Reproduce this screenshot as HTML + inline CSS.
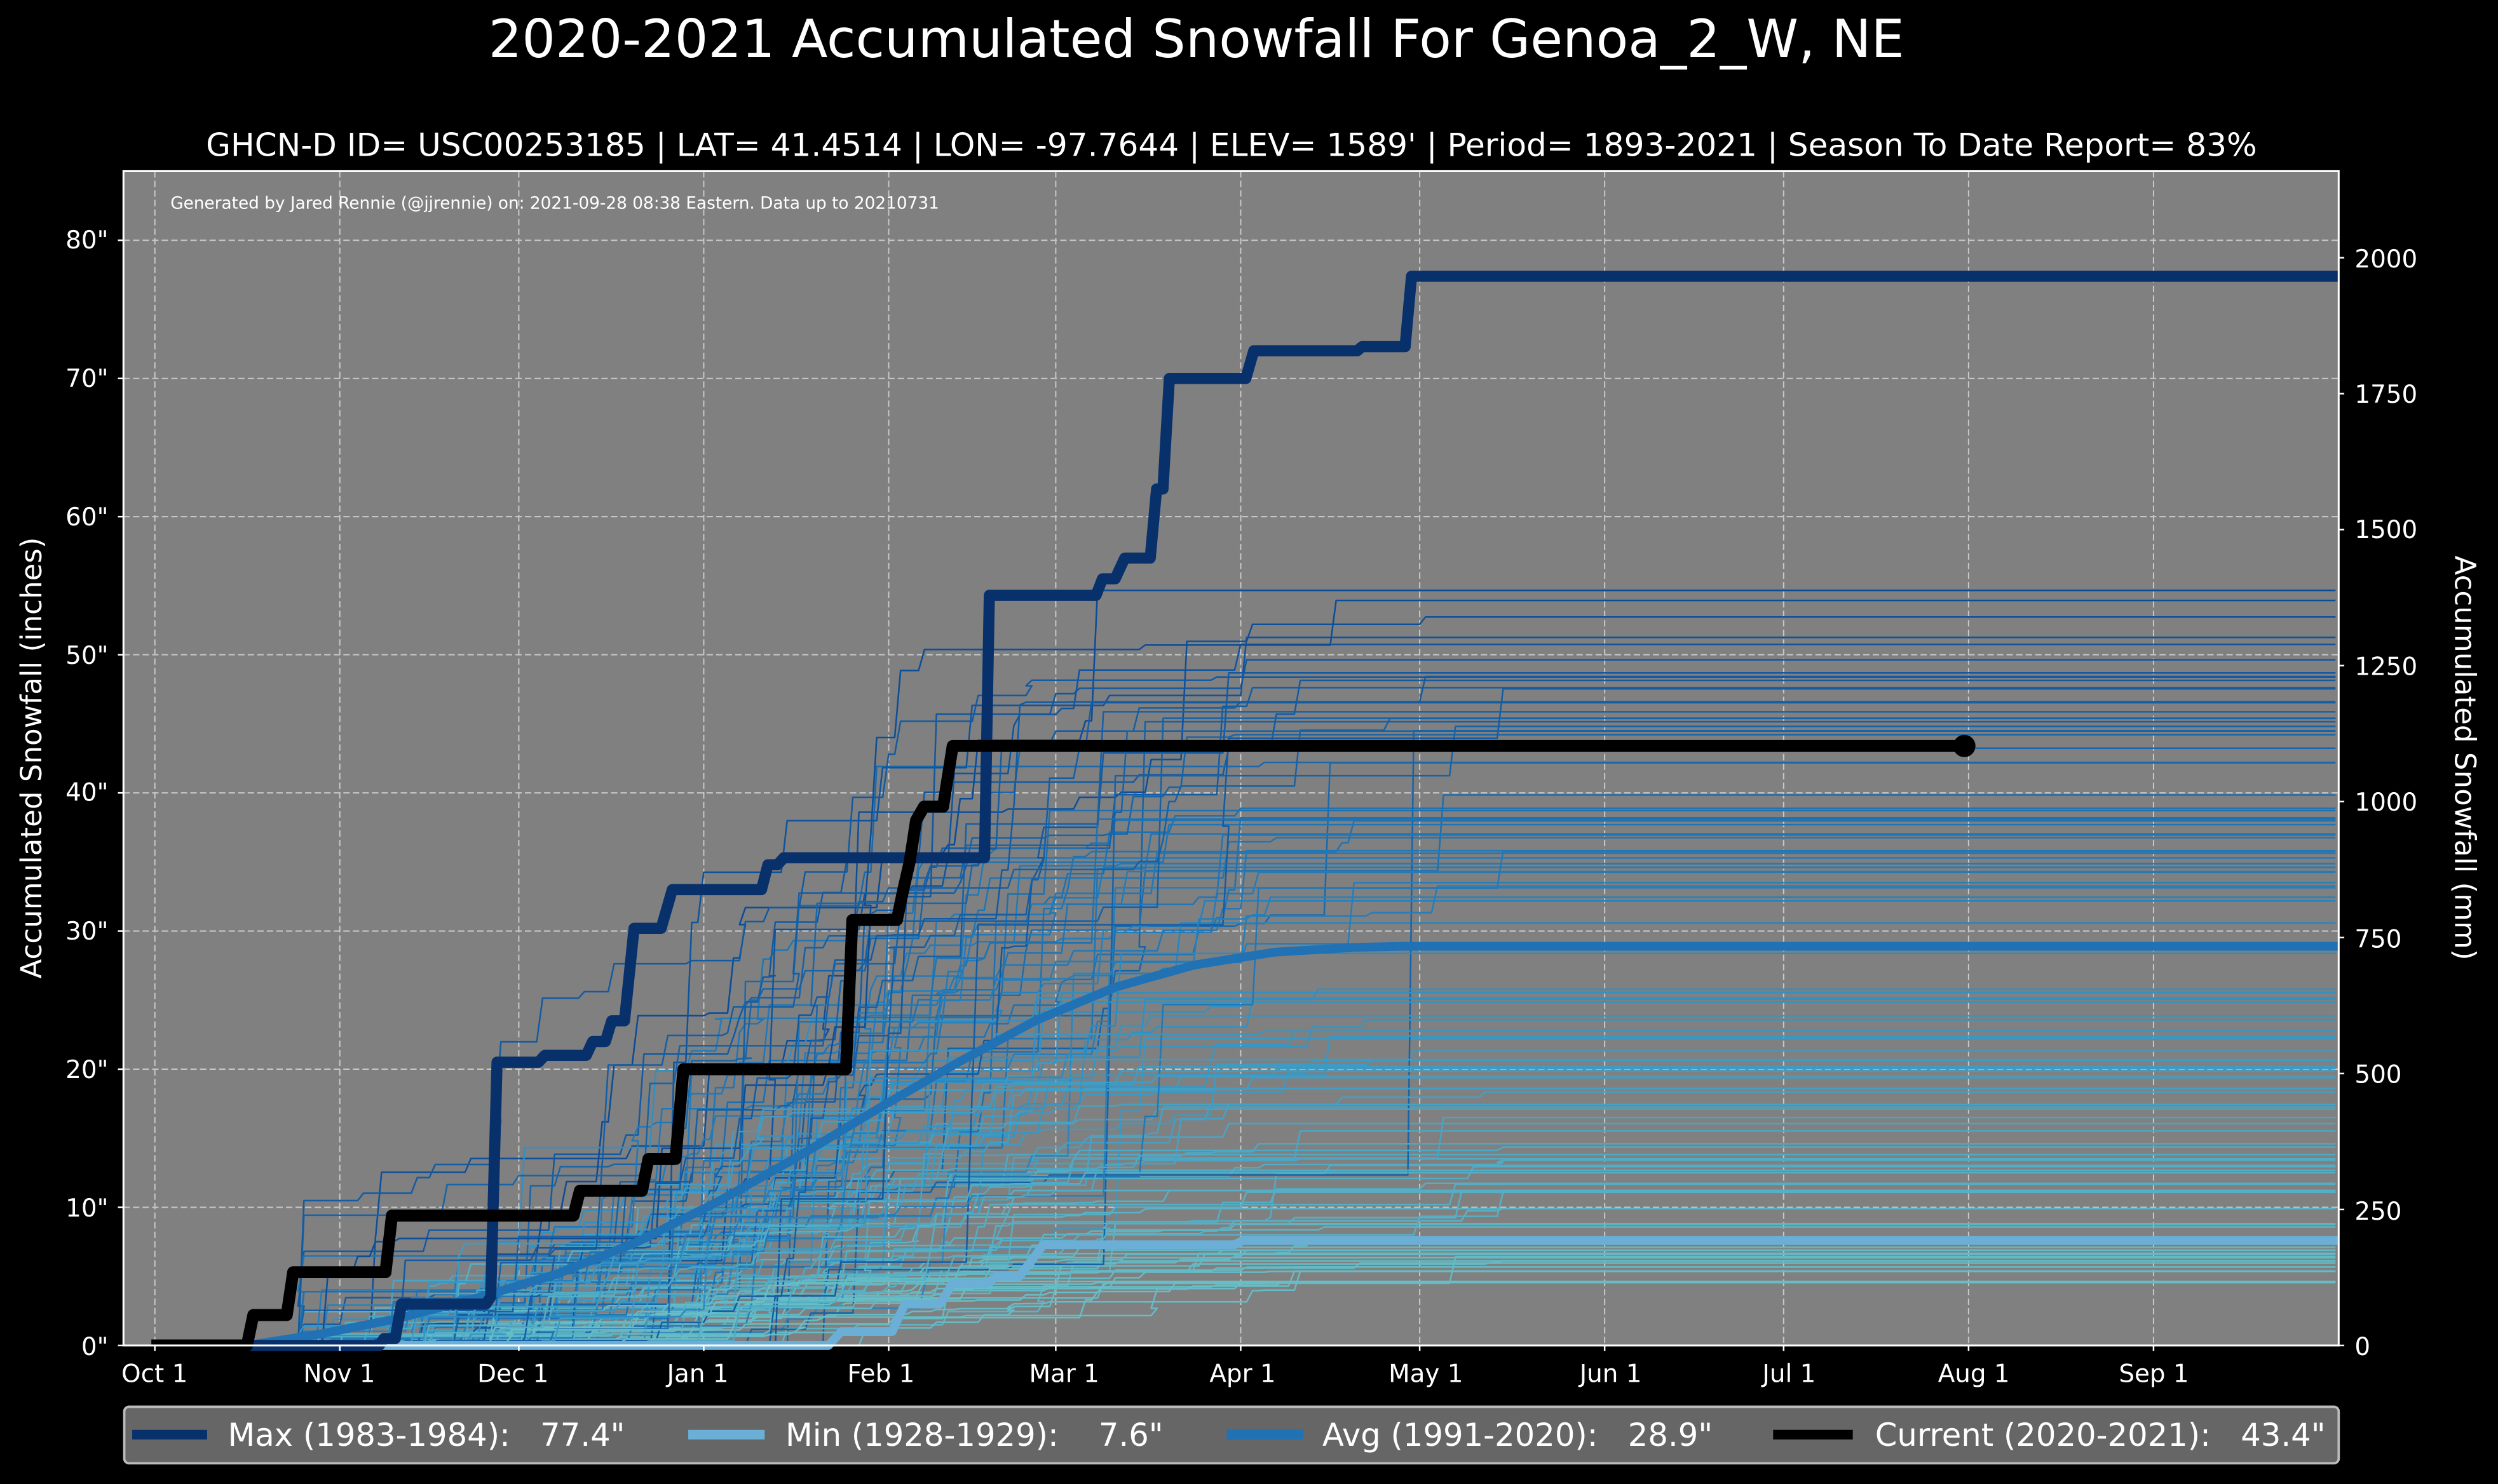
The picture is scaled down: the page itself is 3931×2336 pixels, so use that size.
<!DOCTYPE html>
<html><head><meta charset="utf-8"><style>
html,body{margin:0;padding:0;background:#000;}
svg{display:block;}
text{font-family:"DejaVu Sans","Liberation Sans",sans-serif;fill:#fff;}
.pre{white-space:pre;}
</style></head><body>
<svg id="s" width="3931" height="2336" viewBox="0 0 1568 932" preserveAspectRatio="none" xmlns="http://www.w3.org/2000/svg">
<rect x="0" y="0" width="1568" height="932" fill="#000"/>
<rect x="77.5" y="107.5" width="1390.5" height="737.5" fill="#808080"/>
<g id="grid" stroke="#c8c8c8" stroke-width="0.8" stroke-dasharray="4,2" fill="none"></g>
<g id="thin" fill="none" stroke-width="1" stroke-linejoin="round"></g>
<g id="thick" fill="none" stroke-linejoin="round"></g>
<rect x="77.5" y="107.5" width="1390.5" height="737.5" fill="none" stroke="#fff" stroke-width="1.2"/>
<g id="ticks" stroke="#fff" stroke-width="1"></g>
<text x="751" y="36" font-size="33" text-anchor="middle">2020-2021 Accumulated Snowfall For Genoa_2_W, NE</text>
<text x="773" y="98" font-size="20" text-anchor="middle">GHCN-D ID= USC00253185 | LAT= 41.4514 | LON= -97.7644 | ELEV= 1589' | Period= 1893-2021 | Season To Date Report= 83%</text>
<text x="107" y="131" font-size="10.5">Generated by Jared Rennie (@jjrennie) on: 2021-09-28 08:38 Eastern. Data up to 20210731</text>
<text transform="translate(26,476) rotate(-90)" font-size="18" text-anchor="middle">Accumulated Snowfall (inches)</text>
<text transform="translate(1541,476) rotate(90)" font-size="18" text-anchor="middle">Accumulated Snowfall (mm)</text>
<g font-size="15.5" text-anchor="end">
<text x="68" y="851">0"</text><text x="68" y="764">10"</text><text x="68" y="677">20"</text><text x="68" y="590">30"</text><text x="68" y="503">40"</text><text x="68" y="417">50"</text><text x="68" y="330">60"</text><text x="68" y="243">70"</text><text x="68" y="156">80"</text>
</g>
<g font-size="15.5" text-anchor="start">
<text x="1478" y="851">0</text><text x="1478" y="766">250</text><text x="1478" y="680">500</text><text x="1478" y="595">750</text><text x="1478" y="509">1000</text><text x="1478" y="424">1250</text><text x="1478" y="338">1500</text><text x="1478" y="253">1750</text><text x="1478" y="168">2000</text>
</g>
<g font-size="15.5" text-anchor="middle">
<text x="97" y="868">Oct 1</text><text x="213" y="868">Nov 1</text><text x="322" y="868">Dec 1</text><text x="438" y="868">Jan 1</text><text x="553" y="868">Feb 1</text><text x="668" y="868">Mar 1</text><text x="780" y="868">Apr 1</text><text x="895" y="868">May 1</text><text x="1011" y="868">Jun 1</text><text x="1123" y="868">Jul 1</text><text x="1239" y="868">Aug 1</text><text x="1352" y="868">Sep 1</text>
</g>
<rect x="78" y="883.5" width="1390" height="35.5" rx="3" fill="#666" stroke="#bbb" stroke-width="1.5"/>
<line x1="83" y1="901" x2="130" y2="901" stroke="#08306b" stroke-width="6"/>
<line x1="432" y1="901" x2="480" y2="901" stroke="#6baed6" stroke-width="6"/>
<line x1="770" y1="901" x2="818" y2="901" stroke="#2171b5" stroke-width="6"/>
<line x1="1113" y1="901" x2="1163" y2="901" stroke="#000" stroke-width="6"/>
<g font-size="19.8">
<text class="pre" x="143" y="908">Max (1983-1984):   77.4"</text>
<text class="pre" x="493" y="908">Min (1928-1929):    7.6"</text>
<text class="pre" x="830" y="908">Avg (1991-2020):   28.9"</text>
<text class="pre" x="1177" y="908">Current (2020-2021):   43.4"</text>
</g>
</svg>
<script>
(function(){
var NS="http://www.w3.org/2000/svg";
function el(p,tag,a){var e=document.createElementNS(NS,tag);for(var k in a)e.setAttribute(k,a[k]);p.appendChild(e);return e;}
var L=77.5,R=1468,T=107.5,B=845;
function X(d){return 97.2+3.745*d;}
function Y(v){return B-v*8.676;}
var g=document.getElementById('grid');
[0,31,61,92,123,151,182,212,243,273,304,335].forEach(function(d){var x=X(d);el(g,'line',{x1:x,y1:T,x2:x,y2:B});});
for(var v=10;v<=80;v+=10){el(g,'line',{x1:L,y1:Y(v),x2:R,y2:Y(v)});}
var tk=document.getElementById('ticks');
for(var v=0;v<=80;v+=10)el(tk,'line',{x1:L-3.5,y1:Y(v),x2:L,y2:Y(v)});
for(var m=0;m<=2000;m+=250){var y=Y(m/25.4);el(tk,'line',{x1:R,y1:y,x2:R+3.5,y2:y});}
[0,31,61,92,123,151,182,212,243,273,304,335].forEach(function(d){el(tk,'line',{x1:X(d),y1:B,x2:X(d),y2:B+3.5});});
var s=777;function rnd(){s=(s*1103515245+12345)%2147483648;return s/2147483648;}
function gauss(){return Math.sqrt(-2*Math.log(rnd()+1e-9))*Math.cos(2*Math.PI*rnd());}
function lerp(a,b,t){return a+(b-a)*t;}
function col(t){var c0=[115,200,198],c1=[43,140,196],c2=[11,74,150],a,b,u;
 if(t<0.5){a=c0;b=c1;u=t/0.5;}else{a=c1;b=c2;u=(t-0.5)/0.5;}
 return 'rgb('+Math.round(lerp(a[0],b[0],u))+','+Math.round(lerp(a[1],b[1],u))+','+Math.round(lerp(a[2],b[2],u))+')';}
var th=document.getElementById('thin');
var N=125;
for(var i=0;i<N;i++){
 var tot=4.5+50.5*Math.pow(rnd(),1.3);
 var n=6+Math.floor(rnd()*18);
 var ev=[];var sum=0;
 for(var j=0;j<n;j++){var d=Math.round(112+gauss()*42);d=Math.max(24,Math.min(225,d));var a=-Math.log(rnd()+1e-9);ev.push([d,a]);sum+=a;}
 ev.sort(function(p,q){return p[0]-q[0];});
 var acc=0,pts=[[X(0),Y(0)]];
 ev.forEach(function(e){var x=X(e[0]);pts.push([x,Y(acc)]);acc+=e[1]/sum*tot;pts.push([x+3.7,Y(acc)]);});
 pts.push([1466,Y(acc)]);
 var dstr='M'+pts.map(function(p){return p[0].toFixed(1)+','+p[1].toFixed(1);}).join('L');
 el(th,'path',{d:dstr,stroke:col(Math.min(1,tot/55))});
}
var tg=document.getElementById('thick');
function steps(list,color,w){var d='M'+list.map(function(p){return p[0]+','+Y(p[1]).toFixed(1);}).join('L');el(tg,'path',{d:d,stroke:color,'stroke-width':w});}
steps([[160,0],[520,0],[528,1],[560,1],[568,3],[590,3],[598,4.5],[620,4.5],[625,5],[640,5],[655,7.3],[775,7.3],[780,7.6],[1468,7.6]],'#6baed6',5.5);
var av=[[155,845],[200,838],[250,828],[300,815],[350,800],[400,780],[450,755],[500,727],[550,697],[600,668],[650,641],[700,620],[750,606],[800,598],[850,595],[880,594.3],[1468,594.3]];
el(tg,'path',{d:'M'+av.map(function(p){return p.join(',');}).join('L'),stroke:'#2171b5','stroke-width':5.5});
steps([[97,0],[238,0],[241,0.5],[248,0.5],[252,3],[305,3],[308,3.5],[312,20.5],[338,20.5],[342,21],[368,21],[372,22],[380,22],[384,23.5],[392,23.5],[398,30.2],[415,30.2],[422,33],[478,33],[482,34.8],[488,34.8],[492,35.3],[618,35.3],[621,54.3],[688,54.3],[692,55.5],[700,55.5],[706,57],[722,57],[726,62],[730,62],[734,70],[782,70],[787,72],[852,72],[855,72.3],[882,72.3],[886,77.4],[1468,77.4]],'#08306b',7);
steps([[95,0],[155,0],[159,2.2],[180,2.2],[184,5.3],[242,5.3],[246,9.4],[360,9.4],[364,11.2],[403,11.2],[407,13.5],[424,13.5],[429,20],[531,20],[535,30.8],[563,30.8],[567,33],[571,35],[575,38],[580,39],[592,39],[598,43.4],[1233,43.4]],'#000',7.5);
el(document.getElementById('s'),'circle',{cx:1233,cy:468.5,r:7,fill:'#000'});
})();
</script>
</body></html>
